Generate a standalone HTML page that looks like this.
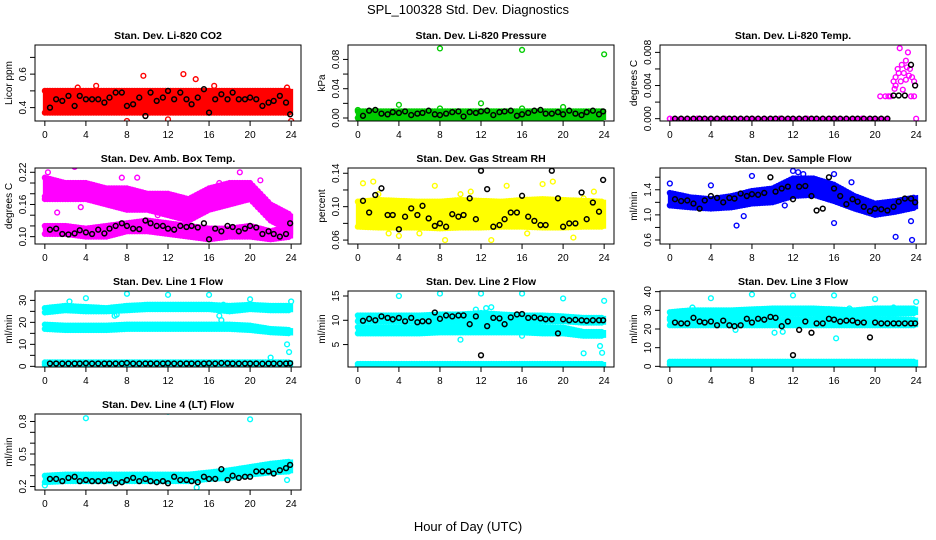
<!DOCTYPE html>
<html><head><meta charset="utf-8">
<style>
html,body{margin:0;padding:0;background:#fff;}
svg{display:block;font-family:"Liberation Sans",Arial,sans-serif;}
</style></head>
<body>
<svg id="chart" width="936" height="540" viewBox="0 0 936 540" xmlns="http://www.w3.org/2000/svg">
<text x="468" y="14" font-size="13" text-anchor="middle">SPL_100328  Std. Dev. Diagnostics</text>
<text x="468" y="531" font-size="13" text-anchor="middle">Hour of Day (UTC)</text>
</svg>
<script>
// ---- shared data ----
const xTicks = [0,4,8,12,16,20,24];
const blackHours = [0.5,1.1,1.7,2.3,2.9,3.4,4.0,4.6,5.2,5.8,6.3,6.9,7.5,8.0,8.6,9.2,9.8,10.3,10.9,11.5,12.0,12.6,13.2,13.8,14.3,14.9,15.5,16.0,16.6,17.2,17.8,18.3,18.9,19.5,20.0,20.6,21.2,21.8,22.3,22.9,23.5,23.9];
const bandHours = [0,2,4,6,8,10,12,14,16,18,20,22,24];

// panel 1 CO2
const co2Black = [0.40,0.45,0.44,0.47,0.41,0.47,0.45,0.45,0.45,0.43,0.46,0.49,0.49,0.41,0.42,0.46,0.35,0.49,0.44,0.46,0.50,0.45,0.49,0.45,0.42,0.46,0.51,0.37,0.45,0.48,0.45,0.49,0.45,0.45,0.46,0.45,0.41,0.43,0.44,0.47,0.43,0.36];
const co2Lo = [0.37,0.37,0.37,0.37,0.37,0.37,0.37,0.37,0.37,0.37,0.37,0.37,0.37];
const co2Hi = [0.50,0.50,0.50,0.50,0.50,0.50,0.50,0.50,0.50,0.50,0.50,0.50,0.50];
const co2OutH = [22,9.6,13.5,14.7,3.2,5,8,24,12,16.5,23.6];
const co2OutV = [0.84,0.59,0.60,0.57,0.52,0.53,0.32,0.32,0.33,0.53,0.52];
// panel 2 pressure
const presBlack = [0.003,0.010,0.011,0.006,0.005,0.008,0.007,0.009,0.004,0.006,0.007,0.010,0.005,0.004,0.006,0.008,0.009,0.002,0.008,0.007,0.009,0.010,0.004,0.008,0.009,0.010,0.003,0.005,0.007,0.010,0.011,0.006,0.006,0.008,0.005,0.010,0.006,0.004,0.008,0.010,0.005,0.009];
const presLo = [0,0,0,0,0,0,0,0,0,0,0,0,0];
const presHi = [0.009,0.009,0.009,0.009,0.009,0.009,0.009,0.009,0.009,0.009,0.009,0.009,0.009];
const presOutH = [8,16,24,4,12,20,0,8,16];
const presOutV = [0.095,0.093,0.087,0.018,0.020,0.015,0.011,0.013,0.013];
// panel 3 temp
const tempBlack = [0,0,0,0,0,0,0,0,0,0,0,0,0,0,0,0,0,0,0,0,0,0,0,0,0,0,0,0,0,0,0,0,0,0,0,0,0,0.0028,0.0028,0.0028,0.0065,0.0040];
const tempBandH = [0,21.4];
const tempLo = [0,0];
const tempHi = [0,0];
const tempOutH = [21.5,21.8,22,22.2,22.4,22.6,22.8,23,23.2,23.4,23.6,23.8,22,22.5,23,23.3,20.5,21,21.3,23.5,23.8,24,22.7,21.9,22.3,23.1];
const tempOutV = [0.0027,0.0045,0.005,0.006,0.0085,0.0065,0.0055,0.007,0.008,0.006,0.005,0.0045,0.004,0.0045,0.0047,0.0052,0.0027,0.0027,0.0027,0.0027,0.0027,0,0.0035,0.0036,0.0055,0.0062];
// panel 4 amb box temp
const ambBlack = [0.113,0.115,0.105,0.104,0.106,0.112,0.108,0.105,0.113,0.106,0.115,0.120,0.125,0.12,0.115,0.114,0.13,0.125,0.12,0.12,0.115,0.113,0.12,0.118,0.12,0.117,0.125,0.095,0.115,0.11,0.12,0.118,0.11,0.115,0.12,0.117,0.105,0.11,0.105,0.10,0.105,0.125];
const ambUpLo = [0.17,0.17,0.17,0.16,0.15,0.15,0.14,0.13,0.15,0.16,0.17,0.13,0.11];
const ambUpHi = [0.21,0.20,0.20,0.19,0.19,0.18,0.18,0.17,0.19,0.20,0.20,0.16,0.14];
const ambDnLo = [0.105,0.105,0.10,0.10,0.11,0.11,0.105,0.10,0.095,0.10,0.10,0.095,0.10];
const ambDnHi = [0.12,0.12,0.115,0.12,0.125,0.13,0.125,0.12,0.115,0.115,0.12,0.11,0.12];
const ambOutH = [2.9,19.6,1.2,0,3.5,7.5,9,11,13,15,17,19,21,0.3];
const ambOutV = [0.23,0.238,0.145,0.175,0.155,0.21,0.21,0.14,0.16,0.145,0.2,0.22,0.205,0.22];
// panel 5 RH
const rhBlack = [0.107,0.093,0.114,0.122,0.090,0.090,0.073,0.088,0.098,0.090,0.101,0.086,0.077,0.080,0.076,0.091,0.088,0.090,0.110,0.085,0.143,0.121,0.076,0.078,0.085,0.093,0.093,0.113,0.088,0.083,0.078,0.078,0.143,0.110,0.076,0.080,0.080,0.117,0.085,0.105,0.094,0.132];
const rhLo = [0.076,0.075,0.075,0.075,0.074,0.075,0.075,0.076,0.076,0.075,0.075,0.076,0.076];
const rhHi = [0.106,0.108,0.107,0.106,0.106,0.108,0.107,0.106,0.108,0.109,0.108,0.107,0.106];
const rhOutH = [8.5,13,0.5,1.5,7.5,19,18,14.5,4,21,2,10,22,3,6,11,16.5,23];
const rhOutV = [0.06,0.06,0.128,0.13,0.125,0.13,0.127,0.125,0.065,0.063,0.115,0.115,0.11,0.068,0.068,0.118,0.068,0.118];
// panel 6 sample flow
const sfBlack = [1.25,1.22,1.23,1.18,1.10,1.23,1.30,1.27,1.20,1.27,1.26,1.34,1.30,1.33,1.32,1.35,1.60,1.37,1.42,1.45,1.25,1.45,1.46,1.30,1.07,1.10,1.60,1.42,1.30,1.17,1.25,1.21,1.13,1.06,1.10,1.09,1.07,1.13,1.21,1.26,1.26,1.20];
const sfLo = [1.15,1.12,1.10,1.12,1.18,1.20,1.30,1.32,1.22,1.10,1.00,1.05,1.12];
const sfHi = [1.35,1.28,1.25,1.30,1.38,1.42,1.58,1.58,1.48,1.30,1.18,1.22,1.28];
const sfOutH = [0,4,8,12,16,17.7,6.5,16,22,23.6,23.5,7.2,11.2,12.5,13];
const sfOutV = [1.5,1.47,1.62,1.7,1.65,1.52,0.83,0.87,0.65,0.6,0.9,0.98,1.15,1.68,1.65];
// panel 7 line 1
const l1Black = [1.3,1.3,1.3,1.3,1.3,1.3,1.4,1.3,1.3,1.3,1.3,1.3,1.3,1.5,1.3,1.3,1.3,1.3,1.3,1.3,1.4,1.3,1.3,1.3,1.3,1.3,1.3,1.4,1.3,1.5,1.4,1.3,1.3,1.3,1.3,1.3,1.2,1.3,1.3,1.3,1.3,1.4];
const l1TopLo = [24.5,25.5,25,25,25.5,26,26,26,26,25,26,25.5,25.5];
const l1TopHi = [26.5,27.5,27,26.5,27.5,28,28,28,28,27.5,28,27.5,27.5];
const l1MidLo = [17,16.5,16.5,16.5,17,17,17,17,17,17,16.5,15.5,15];
const l1MidHi = [19,18.5,18.5,18.5,19,19,19,19,19,19,18.5,17,16.5];
const l1BotLo = [0.8,0.8,0.8,0.8,0.8,0.8,0.8,0.8,0.8,0.8,0.8,0.8,0.8];
const l1BotHi = [1.8,1.8,1.8,1.8,1.8,1.8,1.8,1.8,1.8,1.8,1.8,1.8,1.8];
const l1OutH = [2.4,4,8,12,16,20,24,17.2,22,23.6,23.8,6.8,17.4,7,17];
const l1OutV = [29.5,31,33,32.5,32.5,30.5,29.5,21,4,10,6.5,23,28,23.5,23];
// panel 8 line 2
const l2Black = [9.9,10.3,10.0,10.8,10.5,10.2,10.5,9.8,10.5,9.6,9.8,9.8,11.6,10.3,11.0,10.8,11.0,11.0,9.2,10.8,2.8,8.8,10.5,10.4,9.2,10.6,11.2,11.3,10.5,10.6,10.4,10.2,10.2,7.3,10.2,10.0,10.1,10.0,9.9,10.0,10.0,10.0];
const l2TopLo = [9.8,9.8,9.8,9.8,9.8,9.8,9.8,9.8,9.8,9.8,9.8,9.5,9.5];
const l2TopHi = [11,11,11,11,11.2,11.2,11.5,11.2,11,11,10.8,10.5,10.5];
const l2MidLo = [7.3,7.3,7.3,7.3,7.5,7.5,7.5,7.5,7.5,7.3,7.3,6.8,6.8];
const l2MidHi = [8.6,8.6,8.6,8.6,8.7,8.7,8.7,8.7,8.7,8.6,8.5,7.6,7.6];
const l2BotLo = [0.5,0.5,0.5,0.5,0.5,0.5,0.5,0.5,0.5,0.5,0.5,0.5,0.5];
const l2BotHi = [1.0,1.0,1.0,1.0,1.0,1.0,1.0,1.0,1.0,1.0,1.0,1.0,1.0];
const l2OutH = [4,8,12,16,20,24,10,22,23.6,23.8,16,12.5,13,11.5];
const l2OutV = [15,15.5,15.5,15.5,14.5,14,6,3.2,4.7,3.3,6.8,12.5,12.7,12.2];
// panel 9 line 3
const l3Black = [23.5,23.0,23.0,26.0,24.0,23.5,24.0,22.0,24.5,22.0,21.5,22.0,25.5,23.5,25.5,25.0,26.5,26.0,21.5,24.0,6.0,19.5,24.0,18.0,23.0,23.0,25.5,25.0,24.0,24.5,24.5,23.5,23.5,15.5,23.5,23.0,23.0,23.0,23.0,23.0,23.0,23.0];
const l3TopLo = [26,27,27,27,27.5,28,28,28,27.5,27,28,28,28.5];
const l3TopHi = [29,30,30,30,30.5,31,31,31,30.5,30,31,31,31];
const l3MidLo = [22,22,22,22,22,22,22,22,22,22,22,22,22];
const l3MidHi = [25,25,25,25,25,25,25,25,25,25,25,25,25];
const l3BotLo = [1,1,1,1,1,1,1,1,1,1,1,1,1];
const l3BotHi = [2.5,2.5,2.5,2.5,2.5,2.5,2.5,2.5,2.5,2.5,2.5,2.5,2.5];
const l3OutH = [4,8,12,16,20,24,16.2,10.2,11,6.4,2.2,17.5,21.8];
const l3OutV = [36.5,38.5,38,38,36,34.5,15,18,18.5,19.5,31.5,31,31.5];
// panel 10 line 4
const l4Black = [0.27,0.27,0.25,0.28,0.29,0.25,0.26,0.25,0.25,0.25,0.26,0.23,0.24,0.26,0.28,0.25,0.27,0.25,0.24,0.25,0.23,0.29,0.26,0.26,0.25,0.24,0.29,0.27,0.27,0.36,0.26,0.30,0.28,0.29,0.29,0.34,0.34,0.34,0.32,0.35,0.37,0.40];
const l4Lo = [0.24,0.25,0.25,0.25,0.25,0.25,0.25,0.25,0.27,0.28,0.31,0.33,0.34];
const l4Hi = [0.30,0.31,0.31,0.31,0.31,0.31,0.31,0.31,0.33,0.35,0.38,0.41,0.43];
const l4OutH = [4,12,20,23.6,14.8,0];
const l4OutV = [0.83,0.89,0.82,0.26,0.19,0.21];

const NS = "http://www.w3.org/2000/svg";
const svg = document.getElementById('chart');
function mk(tag, attrs, parent){
  const e = document.createElementNS(NS, tag);
  for (const k in attrs) e.setAttribute(k, attrs[k]);
  (parent||svg).appendChild(e);
  return e;
}
const colLeft = [35,348,660], rowTop = [45,168,291,414], PW = 266, PH = 76;

function panel(o){
  const L = colLeft[o.col], T = rowTop[o.row];
  const g = mk('g', {});
  
  
  const xs = h => L + (h + 0.96) / 25.92 * PW;
  const ys = v => T + PH - (v - o.ymin) / (o.ymax - o.ymin) * PH;
  const clip = 'clip-' + o.name;
  const cp = mk('clipPath', {id: clip}, g);
  mk('rect', {x: L, y: T, width: PW, height: PH}, cp);
  const data = mk('g', {'clip-path': 'url(#' + clip + ')'}, g);
  // bands
  (o.bands||[]).forEach(b => {
    const hs = b.h || bandHours;
    let pts = hs.map((h,i) => xs(h) + ',' + ys(b.hi[i])).join(' ') + ' ' +
      hs.slice().reverse().map((h,j) => xs(h) + ',' + ys(b.lo[hs.length-1-j])).join(' ');
    const poly = mk('polygon', {points: pts, fill: o.color, stroke: o.color, 'stroke-width': 4}, data);
    
    
    // edge markers
    for (let i = 0; i < hs.length - 1; i++) {
      for (let t = 0; t < 1; t += 0.125) {
        const h = hs[i] + (hs[i+1]-hs[i]) * t;
        [b.lo, b.hi].forEach(arr => {
          const v = arr[i] + (arr[i+1]-arr[i]) * t;
          const c = mk('circle', {cx: xs(h), cy: ys(v), r: 2.4, fill: 'none', stroke: o.color, 'stroke-width': 1.4}, data);
          
          
        });
      }
    }
  });
  // outliers
  (o.outH||[]).forEach((h,i) => {
    const c = mk('circle', {cx: xs(h), cy: ys(o.outV[i]), r: 2.4, fill: 'none', stroke: o.color, 'stroke-width': 1.4}, data);
    
    
  });
  // black points
  blackHours.forEach((h,i) => {
    const c = mk('circle', {cx: xs(h), cy: ys(o.black[i]), r: 2.4, fill: 'none', stroke: '#000', 'stroke-width': 1.5}, data);
    
    
  });
  // box
  const box = mk('rect', {x: L, y: T, width: PW, height: PH, fill: 'none', stroke: '#000', 'stroke-width': 1}, g);
  
  
  // title
  const tt = mk('text', {x: L + PW/2, y: T - 6, 'font-size': 10.5, 'font-weight': 'bold', 'text-anchor': 'middle'}, g);
  tt.textContent = o.title;
  
  
  // x axis
  const xa = mk('g', {}, g);
  
  
  mk('line', {x1: xs(0), x2: xs(24), y1: T+PH, y2: T+PH, stroke: '#000'}, xa);
  xTicks.forEach(v => {
    mk('line', {x1: xs(v), x2: xs(v), y1: T+PH, y2: T+PH+5, stroke: '#000'}, xa);
    const t = mk('text', {x: xs(v), y: T+PH+17, 'font-size': 10, 'text-anchor': 'middle'}, xa);
    t.textContent = v;
  });
  // y axis
  const ya = mk('g', {}, g);
  
  
  mk('line', {x1: L, x2: L, y1: ys(o.ticks[0]), y2: ys(o.ticks[o.ticks.length-1]), stroke: '#000'}, ya);
  o.ticks.forEach(v => mk('line', {x1: L-5, x2: L, y1: ys(v), y2: ys(v), stroke: '#000'}, ya));
  o.labels.forEach((lab,i) => {
    const y = ys(o.labelVals[i]);
    const t = mk('text', {x: 0, y: 0, 'font-size': 10, 'text-anchor': 'middle', transform: 'translate(' + (L-9) + ',' + y + ') rotate(-90)'}, ya);
    t.textContent = lab;
  });
  const yt = mk('text', {x: 0, y: 0, 'font-size': 10, 'text-anchor': 'middle', transform: 'translate(' + (L-23) + ',' + (T+PH/2) + ') rotate(-90)'}, g);
  yt.textContent = o.ylab;
  
  
}

panel({name:'panel-co2', row:0, col:0, title:'Stan. Dev. Li-820 CO2', ylab:'Licor ppm', color:'#ff0000', ymin:0.32, ymax:0.774,
  ticks:[0.4,0.5,0.6,0.7], labelVals:[0.4,0.6], labels:['0.4','0.6'], black:co2Black,
  bands:[{lo:co2Lo, hi:co2Hi}], outH:co2OutH, outV:co2OutV});
panel({name:'panel-pressure', row:0, col:1, title:'Stan. Dev. Li-820 Pressure', ylab:'kPa', color:'#00cc00', ymin:-0.0041, ymax:0.0997,
  ticks:[0,0.02,0.04,0.06,0.08], labelVals:[0,0.04,0.08], labels:['0.00','0.04','0.08'], black:presBlack,
  bands:[{lo:presLo, hi:presHi}], outH:presOutH, outV:presOutV});
panel({name:'panel-temp', row:0, col:2, title:'Stan. Dev. Li-820 Temp.', ylab:'degrees C', color:'#ff00ff', ymin:-0.00028, ymax:0.00889,
  ticks:[0,0.002,0.004,0.006,0.008], labelVals:[0,0.004,0.008], labels:['0.000','0.004','0.008'], black:tempBlack,
  bands:[{h:tempBandH, lo:tempLo, hi:tempHi}], outH:tempOutH, outV:tempOutV});
panel({name:'panel-amb-box-temp', row:1, col:0, title:'Stan. Dev. Amb. Box Temp.', ylab:'degrees C', color:'#ff00ff', ymin:0.0863, ymax:0.228,
  ticks:[0.10,0.12,0.14,0.16,0.18,0.20,0.22], labelVals:[0.10,0.16,0.22], labels:['0.10','0.16','0.22'], black:ambBlack,
  bands:[{lo:ambUpLo, hi:ambUpHi},{lo:ambDnLo, hi:ambDnHi}], outH:ambOutH, outV:ambOutV});
panel({name:'panel-gas-rh', row:1, col:1, title:'Stan. Dev. Gas Stream RH', ylab:'percent', color:'#ffff00', ymin:0.0553, ymax:0.1463,
  ticks:[0.06,0.08,0.10,0.12,0.14], labelVals:[0.06,0.10,0.14], labels:['0.06','0.10','0.14'], black:rhBlack,
  bands:[{lo:rhLo, hi:rhHi}], outH:rhOutH, outV:rhOutV});
panel({name:'panel-sample-flow', row:1, col:2, title:'Stan. Dev. Sample Flow', ylab:'ml/min', color:'#0000ff', ymin:0.536, ymax:1.747,
  ticks:[0.6,0.8,1.0,1.2,1.4,1.6], labelVals:[0.6,1.0,1.4], labels:['0.6','1.0','1.4'], black:sfBlack,
  bands:[{lo:sfLo, hi:sfHi}], outH:sfOutH, outV:sfOutV});
panel({name:'panel-line1-flow', row:2, col:0, title:'Stan. Dev. Line 1 Flow', ylab:'ml/min', color:'#00ffff', ymin:-0.3, ymax:34.26,
  ticks:[0,5,10,15,20,25,30], labelVals:[0,10,20,30], labels:['0','10','20','30'], black:l1Black,
  bands:[{lo:l1TopLo, hi:l1TopHi},{lo:l1MidLo, hi:l1MidHi},{lo:l1BotLo, hi:l1BotHi}], outH:l1OutH, outV:l1OutV});
panel({name:'panel-line2-flow', row:2, col:1, title:'Stan. Dev. Line 2 Flow', ylab:'ml/min', color:'#00ffff', ymin:0.38, ymax:16.03,
  ticks:[5,10,15], labelVals:[5,10,15], labels:['5','10','15'], black:l2Black,
  bands:[{lo:l2TopLo, hi:l2TopHi},{lo:l2MidLo, hi:l2MidHi},{lo:l2BotLo, hi:l2BotHi}], outH:l2OutH, outV:l2OutV});
panel({name:'panel-line3-flow', row:2, col:2, title:'Stan. Dev. Line 3 Flow', ylab:'ml/min', color:'#00ffff', ymin:-0.35, ymax:40.35,
  ticks:[0,10,20,30,40], labelVals:[0,10,20,30,40], labels:['0','10','20','30','40'], black:l3Black,
  bands:[{lo:l3TopLo, hi:l3TopHi},{lo:l3MidLo, hi:l3MidHi},{lo:l3BotLo, hi:l3BotHi}], outH:l3OutH, outV:l3OutV});
panel({name:'panel-line4-flow', row:3, col:0, title:'Stan. Dev. Line 4 (LT) Flow', ylab:'ml/min', color:'#00ffff', ymin:0.168, ymax:0.869,
  ticks:[0.2,0.3,0.4,0.5,0.6,0.7,0.8], labelVals:[0.2,0.5,0.8], labels:['0.2','0.5','0.8'], black:l4Black,
  bands:[{lo:l4Lo, hi:l4Hi}], outH:l4OutH, outV:l4OutV});
</script>
</body></html>
